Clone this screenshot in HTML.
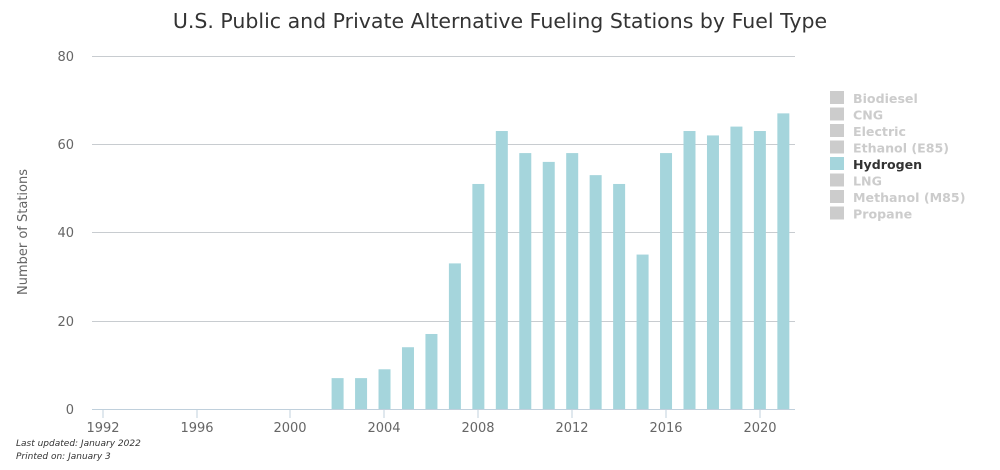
<!DOCTYPE html>
<html><head><meta charset="utf-8"><style>
body{margin:0;background:#fff;}
svg{display:block;font-family:"DejaVu Sans","Liberation Sans",sans-serif;}
</style></head><body>
<svg width="1000" height="470" viewBox="0 0 1000 470" xmlns="http://www.w3.org/2000/svg">
<text x="500" y="28" text-anchor="middle" font-size="20.5" fill="#333">U.S. Public and Private Alternative Fueling Stations by Fuel Type</text>
<g stroke="#c8ccd0" stroke-width="1">
<line x1="92" y1="56.5" x2="795" y2="56.5"/>
<line x1="92" y1="144.5" x2="795" y2="144.5"/>
<line x1="92" y1="232.5" x2="795" y2="232.5"/>
<line x1="92" y1="321.5" x2="795" y2="321.5"/>
</g>
<line x1="92" y1="409.5" x2="795" y2="409.5" stroke="#c0d0dc" stroke-width="1"/>
<g stroke="#c0d0dc"><line x1="103" y1="410" x2="103" y2="418"/><line x1="197" y1="410" x2="197" y2="418"/><line x1="290" y1="410" x2="290" y2="418"/><line x1="384" y1="410" x2="384" y2="418"/><line x1="478" y1="410" x2="478" y2="418"/><line x1="572" y1="410" x2="572" y2="418"/><line x1="666" y1="410" x2="666" y2="418"/><line x1="760" y1="410" x2="760" y2="418"/></g>
<g font-size="13" fill="#666" text-anchor="end">
<text x="74" y="61">80</text><text x="74" y="149">60</text><text x="74" y="237">40</text><text x="74" y="326">20</text><text x="74" y="414">0</text>
</g>
<g font-size="13" fill="#666" text-anchor="middle">
<text x="103" y="432">1992</text><text x="197" y="432">1996</text><text x="290" y="432">2000</text><text x="384" y="432">2004</text><text x="478" y="432">2008</text><text x="572" y="432">2012</text><text x="666" y="432">2016</text><text x="760" y="432">2020</text>
</g>
<text transform="translate(27,232) rotate(-90)" text-anchor="middle" font-size="13" fill="#666">Number of Stations</text>
<g fill="#a5d5dc" id="bars"></g>
<g font-size="12.6" font-weight="bold" fill="#ccc">
<rect x="830" y="91" width="14" height="13" fill="#ccc"/><text x="853" y="103">Biodiesel</text>
<rect x="830" y="107.5" width="14" height="13" fill="#ccc"/><text x="853" y="119.5">CNG</text>
<rect x="830" y="124" width="14" height="13" fill="#ccc"/><text x="853" y="136">Electric</text>
<rect x="830" y="140.5" width="14" height="13" fill="#ccc"/><text x="853" y="152.5">Ethanol (E85)</text>
<rect x="830" y="157" width="14" height="13" fill="#a5d5dc"/><text x="853" y="169" fill="#333">Hydrogen</text>
<rect x="830" y="173.5" width="14" height="13" fill="#ccc"/><text x="853" y="185.5">LNG</text>
<rect x="830" y="190" width="14" height="13" fill="#ccc"/><text x="853" y="202">Methanol (M85)</text>
<rect x="830" y="206.5" width="14" height="13" fill="#ccc"/><text x="853" y="218.5">Propane</text>
</g>
<g font-size="9" font-style="italic" fill="#333">
<text x="16" y="446">Last updated: January 2022</text>
<text x="16" y="459">Printed on: January 3</text>
</g>
</svg>
<script>
var v={2002:7,2003:7,2004:9,2005:14,2006:17,2007:33,2008:51,2009:63,2010:58,2011:56,2012:58,2013:53,2014:51,2015:35,2016:58,2017:63,2018:62,2019:64,2020:63,2021:67};
var g=document.getElementById('bars'),s='';
for(var y in v){var cx=103+(y-1992)*23.46,h=v[y]*4.4125;
s+='<rect x="'+(cx-6)+'" y="'+(409-h)+'" width="12" height="'+h+'"/>';}
g.innerHTML=s;
</script>
</body></html>
